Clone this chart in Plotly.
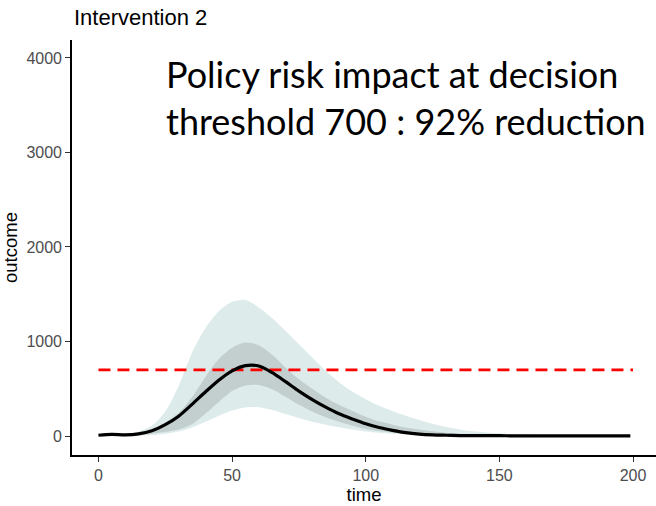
import plotly.graph_objects as go

# Simulated epidemic outcome under intervention 2: median trajectory with
# 50% (inner) and 95% (outer) uncertainty bands
time = [0, 5, 10, 15, 20, 25, 30, 35, 40, 45, 50, 55, 60, 65, 70, 75, 80, 85,
        90, 95, 100, 105, 110, 115, 120, 125, 130, 135, 140, 145, 150, 155,
        160, 165, 170, 175, 180, 185, 190, 195, 199]

median = [8, 18, 12, 22, 55, 120, 210, 335, 465, 590, 690, 745, 740, 670, 575,
          475, 385, 305, 235, 180, 130, 90, 60, 35, 20, 12, 8, 5, 4, 3, 3, 2,
          2, 2, 2, 2, 2, 2, 2, 2, 2]

outer_upper = [8, 20, 25, 45, 110, 260, 530, 880, 1140, 1320, 1420, 1440,
               1360, 1245, 1110, 970, 830, 690, 570, 470, 390, 320, 265, 215,
               170, 130, 95, 70, 50, 38, 28, 20, 15, 11, 8, 6, 4, 3, 3, 3, 3]

outer_lower = [0, 2, 3, 5, 10, 25, 48, 90, 150, 215, 270, 302, 305, 275, 232,
               190, 150, 120, 92, 68, 48, 34, 23, 15, 9, 6, 4, 2, 2, 1, 1, 1,
               1, 1, 1, 1, 1, 1, 1, 1, 1]

inner_upper = [8, 18, 15, 30, 65, 140, 245, 410, 625, 815, 935, 990, 960, 860,
               725, 600, 500, 405, 330, 265, 205, 155, 120, 90, 70, 50, 35, 25,
               18, 12, 8, 6, 4, 3, 3, 2, 2, 2, 2, 2, 2]

inner_lower = [5, 12, 8, 12, 25, 45, 70, 125, 235, 360, 475, 535, 540, 495,
               415, 330, 260, 198, 150, 108, 75, 52, 36, 24, 16, 11, 7, 5, 3,
               2, 2, 2, 2, 1, 1, 1, 1, 1, 1, 1, 1]

threshold = 700
threshold_span = [0, 200]

x_ticks = [0, 50, 100, 150, 200]
y_ticks = [0, 1000, 2000, 3000, 4000]

title_text = "Intervention 2"
note_lines = ["Policy risk impact at decision", "threshold 700 : 92% reduction"]

OUTER_FILL = "#DDEBEB"
INNER_FILL = "#C3CFCF"
SANS = "Liberation Sans, Arial, sans-serif"

fig = go.Figure()

# 95% band
fig.add_trace(go.Scatter(x=time, y=outer_upper, mode="lines",
                         line=dict(width=0, shape="spline", smoothing=0.8),
                         showlegend=False, hoverinfo="skip"))
fig.add_trace(go.Scatter(x=time, y=outer_lower, mode="lines", fill="tonexty",
                         fillcolor=OUTER_FILL,
                         line=dict(width=0, shape="spline", smoothing=0.8),
                         showlegend=False, hoverinfo="skip"))
# 50% band
fig.add_trace(go.Scatter(x=time, y=inner_upper, mode="lines",
                         line=dict(width=0, shape="spline", smoothing=0.8),
                         showlegend=False, hoverinfo="skip"))
fig.add_trace(go.Scatter(x=time, y=inner_lower, mode="lines", fill="tonexty",
                         fillcolor=INNER_FILL,
                         line=dict(width=0, shape="spline", smoothing=0.8),
                         showlegend=False, hoverinfo="skip"))
# Decision threshold
fig.add_trace(go.Scatter(x=threshold_span, y=[threshold, threshold],
                         mode="lines",
                         line=dict(color="#FF0000", width=2.6, dash="12px,7px"),
                         showlegend=False, hoverinfo="skip"))
# Median trajectory
fig.add_trace(go.Scatter(x=time, y=median, mode="lines",
                         line=dict(color="black", width=3.2, shape="spline",
                                   smoothing=0.8),
                         showlegend=False))

axis_common = dict(
    showgrid=False, zeroline=False, showline=True, linecolor="black",
    linewidth=1.6, ticks="outside", ticklen=5, tickwidth=1.3,
    tickcolor="#333333",
    tickfont=dict(family=SANS, size=16, color="#4D4D4D"),
)

fig.update_xaxes(range=[-9.9, 208.6], tickvals=x_ticks,
                 title=dict(text="time", standoff=5,
                            font=dict(family=SANS, size=18.5, color="black")),
                 **axis_common)
fig.update_yaxes(range=[-201, 4190], tickvals=y_ticks,
                 title=dict(text="outcome", standoff=8,
                            font=dict(family=SANS, size=18.5, color="black")),
                 **axis_common)

annotations = [
    dict(text=title_text, xref="paper", yref="paper", x=0, y=1.054,
         xanchor="left", yanchor="middle", showarrow=False,
         font=dict(family=SANS, size=22, color="black")),
]
for i, line in enumerate(note_lines):
    annotations.append(
        dict(text=line, xref="paper", yref="paper", x=(164 - 72) / 584,
             y=(455 - (74 + 47 * i)) / 415, xanchor="left", yanchor="middle",
             showarrow=False,
             font=dict(family="Lato, sans-serif", size=36, color="black")))

fig.update_layout(
    width=656, height=506,
    margin=dict(l=72, r=0, t=40, b=51),
    plot_bgcolor="white", paper_bgcolor="white",
    annotations=annotations,
)

fig.write_html("out.html")
